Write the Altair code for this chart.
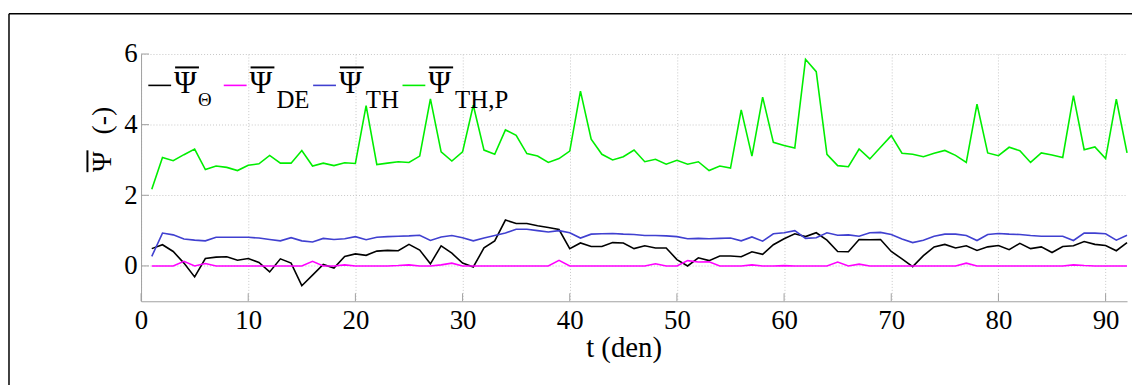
import altair as alt
import pandas as pd

# ---------------- data ----------------
t = list(range(1, 93))

psi_theta = [0.49, 0.60, 0.41, 0.08, -0.31, 0.21, 0.25, 0.26, 0.16, 0.21,
             0.10, -0.17, 0.20, 0.08, -0.56, -0.26, 0.04, -0.06, 0.27, 0.34,
             0.30, 0.42, 0.44, 0.43, 0.61, 0.45, 0.06, 0.57, 0.36, 0.08,
             -0.03, 0.51, 0.71, 1.30, 1.20, 1.20, 1.14, 1.09, 1.03, 0.49,
             0.65, 0.55, 0.55, 0.66, 0.65, 0.49, 0.57, 0.51, 0.51, 0.18,
             0.00, 0.23, 0.15, 0.28, 0.28, 0.26, 0.40, 0.33, 0.60, 0.77,
             0.91, 0.83, 0.94, 0.73, 0.41, 0.40, 0.75, 0.74, 0.75, 0.41,
             0.20, -0.02, 0.29, 0.54, 0.61, 0.51, 0.57, 0.44, 0.54, 0.58,
             0.46, 0.64, 0.49, 0.54, 0.38, 0.55, 0.57, 0.69, 0.61, 0.58,
             0.43, 0.66]

psi_de = [0.00, 0.00, 0.00, 0.13, 0.00, 0.07, 0.00, 0.00, 0.00, 0.00,
          0.00, 0.00, 0.00, 0.00, 0.00, 0.13, 0.00, 0.00, 0.03, 0.00,
          0.00, 0.00, 0.00, 0.01, 0.03, 0.00, 0.00, 0.03, 0.08, 0.00,
          0.00, 0.00, 0.00, 0.00, 0.00, 0.00, 0.00, 0.00, 0.16, 0.00,
          0.00, 0.00, 0.00, 0.00, 0.00, 0.00, 0.00, 0.06, 0.00, 0.00,
          0.15, 0.11, 0.12, 0.00, 0.00, 0.00, 0.03, 0.00, 0.00, 0.01,
          0.00, 0.00, 0.00, 0.00, 0.11, 0.00, 0.05, 0.00, 0.00, 0.00,
          0.00, 0.00, 0.00, 0.00, 0.00, 0.00, 0.08, 0.00, 0.00, 0.00,
          0.00, 0.00, 0.00, 0.00, 0.00, 0.00, 0.03, 0.01, 0.00, 0.00,
          0.00, 0.00]

psi_th = [0.27, 0.93, 0.88, 0.76, 0.73, 0.71, 0.81, 0.81, 0.81, 0.81,
          0.79, 0.75, 0.71, 0.80, 0.71, 0.68, 0.78, 0.75, 0.77, 0.83,
          0.74, 0.81, 0.83, 0.84, 0.85, 0.87, 0.72, 0.82, 0.86, 0.80,
          0.71, 0.79, 0.86, 0.93, 1.04, 1.04, 1.00, 0.96, 1.00, 0.94,
          0.79, 0.90, 0.91, 0.92, 0.90, 0.89, 0.86, 0.86, 0.85, 0.83,
          0.77, 0.78, 0.77, 0.78, 0.79, 0.71, 0.82, 0.70, 0.91, 0.94,
          1.00, 0.78, 0.80, 0.94, 0.87, 0.88, 0.84, 0.94, 0.95, 0.89,
          0.76, 0.66, 0.73, 0.84, 0.90, 0.90, 0.86, 0.72, 0.89, 0.92,
          0.90, 0.89, 0.86, 0.84, 0.84, 0.84, 0.72, 0.93, 0.93, 0.91,
          0.73, 0.87]

psi_thp = [2.17, 3.07, 2.98, 3.15, 3.31, 2.73, 2.83, 2.79, 2.70, 2.85,
           2.89, 3.13, 2.91, 2.91, 3.27, 2.83, 2.91, 2.84, 2.92, 2.90,
           4.54, 2.87, 2.91, 2.95, 2.93, 3.11, 4.73, 3.23, 2.97, 3.23,
           4.55, 3.28, 3.16, 3.85, 3.70, 3.18, 3.11, 2.93, 3.04, 3.25,
           4.95, 3.59, 3.16, 3.00, 3.09, 3.28, 2.95, 3.02, 2.88, 2.99,
           2.88, 2.95, 2.70, 2.83, 2.77, 4.42, 3.11, 4.78, 3.50, 3.41,
           3.34, 5.85, 5.50, 3.16, 2.84, 2.81, 3.31, 3.03, 3.36, 3.69,
           3.19, 3.16, 3.09, 3.19, 3.27, 3.13, 2.93, 4.58, 3.20, 3.12,
           3.36, 3.26, 2.93, 3.20, 3.14, 3.07, 4.82, 3.29, 3.37, 3.04,
           4.72, 3.20]

series_keys = ["Θ", "DE", "TH", "TH,P"]
series_vals = [psi_theta, psi_de, psi_th, psi_thp]
x_ticks = [0, 10, 20, 30, 40, 50, 60, 70, 80, 90]
y_ticks = [0, 2, 4, 6]

# ---------------- style ----------------
colors = ["#000000", "#ff00ff", "#4040d0", "#00ee00"]
FONT = "Liberation Serif"
W, H = 993, 249
GRID = "#c8c8c8"
AXIS = "#a0a0a0"

x_scale = alt.Scale(domain=[0, 92], nice=False, zero=False)
y_scale = alt.Scale(domain=[-1, 6], nice=False, zero=False)

x_axis = alt.Axis(values=x_ticks, title="t (den)", grid=True, gridColor=GRID,
                  gridDash=[1, 2], gridWidth=1, domainColor=AXIS, tickSize=0,
                  labelFont=FONT, labelFontSize=27, labelColor="black",
                  labelPadding=6, titleFont=FONT, titleFontSize=29,
                  titleFontWeight="normal", titleColor="black", titlePadding=1,
                  titleX=486, labelFlush=False)
y_axis = alt.Axis(values=y_ticks, title="", grid=True, gridColor=GRID,
                  gridDash=[1, 2], gridWidth=1, domainColor=AXIS, tickSize=0,
                  labelFont=FONT, labelFontSize=27, labelColor="black",
                  labelPadding=4, labelFlush=False)

layers = []
for i, (key, vals) in enumerate(zip(series_keys, series_vals)):
    d = pd.DataFrame({"t": t, "v": vals})
    layers.append(alt.Chart(d).mark_line(strokeWidth=1.6, color=colors[i]).encode(
        x=alt.X("t:Q", scale=x_scale, axis=x_axis),
        y=alt.Y("v:Q", scale=y_scale, axis=y_axis),
    ))

# inward tick marks
xt = pd.DataFrame({"t": x_ticks})
layers.append(alt.Chart(xt).mark_rule(color=AXIS, strokeWidth=1).encode(
    x=alt.X("t:Q", scale=x_scale, axis=x_axis), y=alt.value(H), y2=alt.value(H - 8)))
yt = pd.DataFrame({"v": y_ticks})
layers.append(alt.Chart(yt).mark_rule(color=AXIS, strokeWidth=1).encode(
    y=alt.Y("v:Q", scale=y_scale, axis=y_axis), x=alt.value(0), x2=alt.value(8)))

one = pd.DataFrame({"k": [0]})

# figure frame (top and left edges)
layers.append(alt.Chart(one).mark_rule(color="black", strokeWidth=1.5).encode(
    x=alt.value(-133), x2=alt.value(1010), y=alt.value(-40.5)))
layers.append(alt.Chart(one).mark_rule(color="black", strokeWidth=1.5).encode(
    x=alt.value(-133), y=alt.value(-40.5), y2=alt.value(340)))

# custom legend with subscripts
leg_x0 = [7.3, 83.3, 173.3, 263.3]
for i, key in enumerate(series_keys):
    x0 = leg_x0[i]
    xp = x0 + 26
    layers.append(alt.Chart(one).mark_rule(color=colors[i], strokeWidth=1.6).encode(
        x=alt.value(x0), x2=alt.value(x0 + 23), y=alt.value(31.6)))
    layers.append(alt.Chart(one).mark_text(font=FONT, fontSize=31, align="left",
                                           baseline="alphabetic", color="black").encode(
        x=alt.value(xp), y=alt.value(39), text=alt.value("Ψ")))
    layers.append(alt.Chart(one).mark_rule(color="black", strokeWidth=2).encode(
        x=alt.value(xp + 1), x2=alt.value(xp + 25), y=alt.value(13.5)))
    if key == "Θ":
        layers.append(alt.Chart(one).mark_text(font=FONT, fontSize=19, align="left",
                                               baseline="alphabetic", color="black").encode(
            x=alt.value(xp + 24), y=alt.value(52.5), text=alt.value(key)))
    else:
        layers.append(alt.Chart(one).mark_text(font=FONT, fontSize=25, align="left",
                                               baseline="alphabetic", color="black").encode(
            x=alt.value(xp + 27), y=alt.value(54), text=alt.value(key)))

# y-axis title: overlined Psi and "(-)", rotated
layers.append(alt.Chart(one).mark_text(font=FONT, fontSize=28, angle=270, align="center",
                                       baseline="alphabetic", color="black").encode(
    x=alt.value(-30), y=alt.value(108.5), text=alt.value("Ψ")))
layers.append(alt.Chart(one).mark_text(font=FONT, fontSize=28, angle=270, align="center",
                                       baseline="alphabetic", color="black").encode(
    x=alt.value(-30), y=alt.value(67), text=alt.value("(-)")))
layers.append(alt.Chart(one).mark_rule(color="black", strokeWidth=2).encode(
    x=alt.value(-54), y=alt.value(97), y2=alt.value(119)))

chart = alt.layer(*layers).properties(
    width=W, height=H,
    autosize=alt.AutoSizeParams(type="none"),
    padding={"left": 134, "top": 45, "right": 5, "bottom": 83},
    background="white",
).configure_view(stroke="transparent")

chart.save("out.html", embed_options={"renderer": "svg", "actions": False})
